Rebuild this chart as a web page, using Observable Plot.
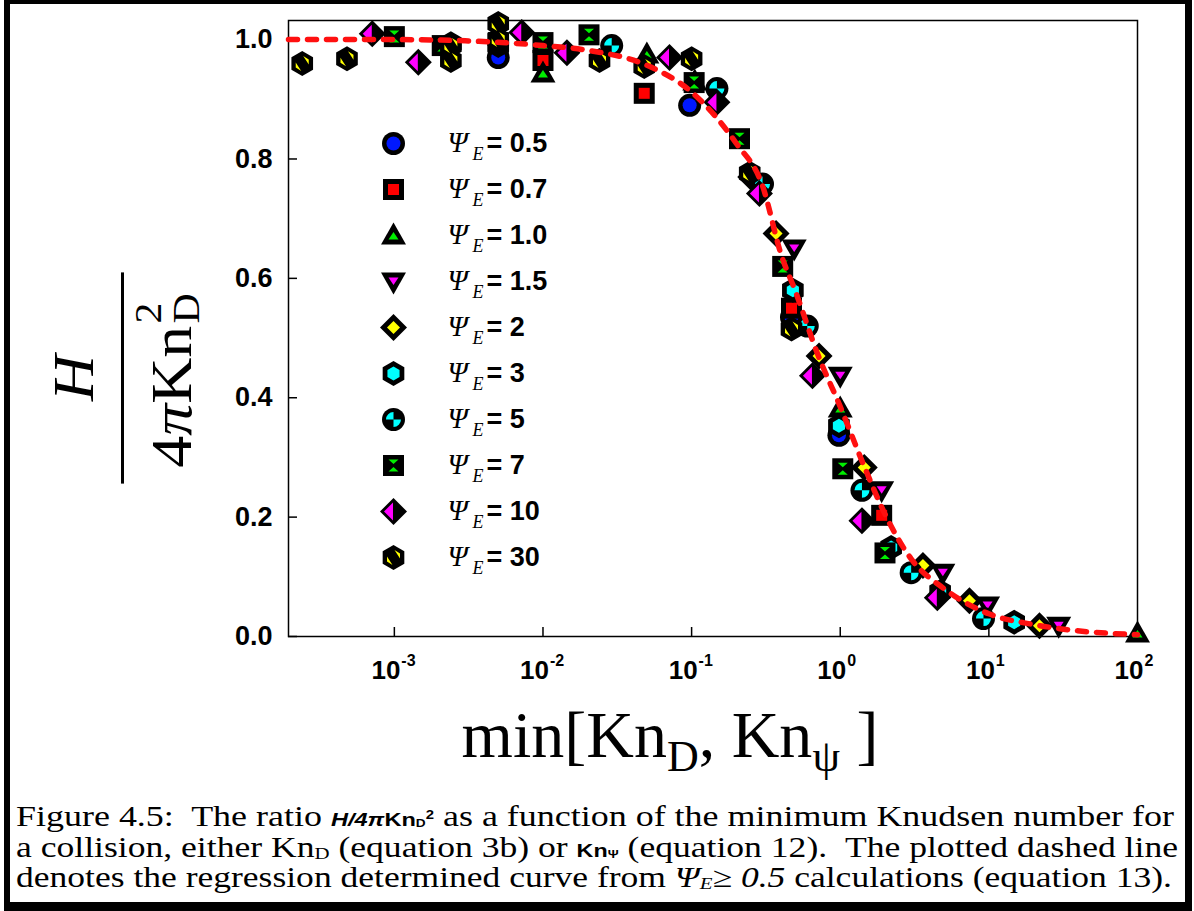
<!DOCTYPE html>
<html><head><meta charset="utf-8">
<script src="https://cdn.jsdelivr.net/npm/d3@7"></script>
<script src="https://cdn.jsdelivr.net/npm/@observablehq/plot@0.6"></script>
<style>
body{margin:0;background:#fff;}
#wrap{position:relative;width:1194px;height:911px;overflow:hidden;background:#fff;}
#border{position:absolute;left:4px;top:0;width:1188px;height:911px;box-sizing:border-box;border-style:solid;border-color:#000;border-width:4px 7px 9px 6px;pointer-events:none;}
#main{position:absolute;left:0;top:0;}
#legend{position:absolute;left:370px;top:118px;}
#ylab{position:absolute;left:23px;top:278px;width:200px;height:200px;transform:rotate(-90deg) scaleX(1.1);transform-origin:100px 100px;font-family:"Liberation Serif","Times New Roman",serif;color:#000;}
#ylab .bar{position:absolute;left:4px;top:98px;width:192px;height:3px;background:#000;}
#ylab .num{position:absolute;left:0;width:200px;top:22px;text-align:center;font-size:58px;line-height:58px;font-style:italic;}
#ylab .den{position:absolute;left:0;width:200px;top:120px;text-align:center;font-size:58px;line-height:58px;white-space:nowrap;}
#ylab .stack{display:inline-block;position:relative;width:34px;height:58px;vertical-align:top;}
#ylab .stack .sup{position:absolute;left:2px;top:-14px;font-size:38px;line-height:38px;}
#ylab .stack .sub{position:absolute;left:2px;top:24px;font-size:38px;line-height:38px;}
#xlab{position:absolute;left:0;width:1340px;top:700px;text-align:center;font-family:"Liberation Serif","Times New Roman",serif;font-size:66px;line-height:70px;color:#000;white-space:pre;}
#xlab sub{font-size:44px;vertical-align:-14px;line-height:0;}
#caption{position:absolute;left:16px;top:801px;font-family:"Liberation Serif","Times New Roman",serif;font-size:29px;color:#000;}
#caption .ln{display:block;white-space:pre;height:30.5px;line-height:30.5px;}
#caption .ln span.inner{display:inline-block;white-space:pre;transform-origin:0 50%;line-height:26px;}
#caption .sb{font-family:"Liberation Sans",Arial,sans-serif;font-weight:bold;font-size:19px;}
#caption .lo{font-size:17px;vertical-align:-2px;line-height:0;}
#caption .hi{font-size:12px;vertical-align:7px;line-height:0;}
#caption .sb .lo{font-size:11px;vertical-align:-1px;}
</style></head>
<body>
<div id="wrap">
  <div id="main"></div>
  <div id="legend"></div>
  <div id="ylab"><div class="num">H</div><div class="bar"></div><div class="den">4<i>π</i>Kn<span class="stack"><span class="sup">2</span><span class="sub">D</span></span></div></div>
  <div id="xlab">min[Kn<sub>D</sub>, Kn<sub>ψ</sub> ]</div>
  <div id="caption">
    <div class="ln"><span class="inner" data-w="1158">Figure 4.5:  The ratio <span class="sb"><i>H/4π</i>Kn<span class="lo">D</span><span class="hi">2</span></span> as a function of the minimum Knudsen number for</span></div>
    <div class="ln"><span class="inner" data-w="1162">a collision, either Kn<span class="lo">D</span> (equation 3b) or <span class="sb">Kn<span class="lo">Ψ</span></span> (equation 12).  The plotted dashed line</span></div>
    <div class="ln"><span class="inner" data-w="1156">denotes the regression determined curve from <i>Ψ<span class="lo">E</span>≥ 0.5</i> calculations (equation 13).</span></div>
  </div>
  <div id="border"></div>
</div>
<script>
// ---------- data ----------
const psiLabels = ["0.5","0.7","1.0","1.5","2","3","5","7","10","30"];

const kn_05 = [0.005, 0.097, 0.47, 0.98];
const h_05  = [0.970, 0.890, 0.535, 0.337];
const kn_07 = [0.01, 0.048, 0.47, 1.9];
const h_07  = [0.965, 0.910, 0.550, 0.203];
const kn_10 = [0.01, 0.05, 0.105, 1.0, 100];
const h_10  = [0.943, 0.975, 0.930, 0.382, 0.005];
const kn_15 = [0.49, 1.0, 1.9, 4.9, 9.8, 29.5];
const h_15  = [0.650, 0.437, 0.245, 0.107, 0.052, 0.018];
const kn_2  = [0.25, 0.37, 0.72, 1.45, 3.6, 7.4, 21.9];
const h_2   = [0.770, 0.675, 0.470, 0.283, 0.119, 0.060, 0.018];
const kn_3  = [0.0024, 0.005, 0.48, 0.98, 2.2, 4.7, 14.8];
const h_3   = [0.993, 0.990, 0.580, 0.353, 0.149, 0.075, 0.024];
const kn_5  = [0.029, 0.148, 0.30, 0.6, 1.4, 3.0, 9.2];
const h_5   = [0.990, 0.918, 0.758, 0.520, 0.245, 0.107, 0.030];
const kn_7  = [0.001, 0.0021, 0.005, 0.01, 0.0204, 0.104, 0.21, 0.41, 1.04, 2.0];
const h_7   = [1.005, 0.990, 0.995, 0.995, 1.008, 0.928, 0.834, 0.620, 0.281, 0.140];
const kn_10b = [7.1e-4, 1.45e-3, 7.2e-3, 0.0145, 0.071, 0.148, 0.286, 0.65, 1.4, 4.5];
const h_10b  = [1.010, 0.962, 1.012, 0.978, 0.970, 0.895, 0.742, 0.437, 0.194, 0.065];
const kn_30 = [2.4e-4, 4.8e-4, 0.0024, 0.0024, 0.005, 0.005, 0.024, 0.048, 0.1, 0.246, 0.47];
const h_30  = [0.960, 0.968, 0.990, 0.965, 1.027, 1.000, 0.965, 0.955, 0.968, 0.776, 0.515];

// regression curve
const curveKn = [1.94e-4, 1e-3, 3e-3, 0.01, 0.02, 0.05, 0.1, 0.2, 0.3, 0.4, 0.5, 0.7, 1.0, 1.45, 2.0, 3.0, 5.0, 10, 20, 30, 100];
const curveH  = [1.0, 1.0, 0.998, 0.99, 0.982, 0.957, 0.912, 0.826, 0.755, 0.64, 0.578, 0.475, 0.385, 0.285, 0.205, 0.13, 0.08, 0.038, 0.02, 0.013, 0.003];

const yTicks = [0, 0.2, 0.4, 0.6, 0.8, 1.0];
const xTicks = [1e-3, 1e-2, 1e-1, 1, 10, 100];
const xTickExp = ["-3", "-2", "-1", "0", "1", "2"];

// ---------- symbols ----------
function sym(f){ return {draw(ctx, size){ const r = Math.sqrt(size/Math.PI); f(ctx, r/10); }}; }
function poly(ctx, k, pts){ ctx.moveTo(pts[0][0]*k, pts[0][1]*k); for (let i=1;i<pts.length;i++) ctx.lineTo(pts[i][0]*k, pts[i][1]*k); ctx.closePath(); }
function hexPts(R){ const p=[]; for(let i=0;i<6;i++){ const a=(-90+60*i)*Math.PI/180; p.push([R*Math.cos(a), R*Math.sin(a)]); } return p; }

const outer = {
  circle: sym((c,k)=>{ c.moveTo(11.5*k,0); c.arc(0,0,11.5*k,0,2*Math.PI); }),
  square: sym((c,k)=>poly(c,k,[[-10.5,-10.5],[10.5,-10.5],[10.5,10.5],[-10.5,10.5]])),
  triUp:  sym((c,k)=>poly(c,k,[[0,-13],[12.5,9],[-12.5,9]])),
  triDn:  sym((c,k)=>poly(c,k,[[0,13],[12.5,-9],[-12.5,-9]])),
  diamond:sym((c,k)=>poly(c,k,[[0,-13.5],[13.5,0],[0,13.5],[-13.5,0]])),
  hex:    sym((c,k)=>poly(c,k,hexPts(12.5)))
};
const inner = {
  circle: sym((c,k)=>{ c.moveTo(7*k,0); c.arc(0,0,7*k,0,2*Math.PI); }),
  square: sym((c,k)=>poly(c,k,[[-5.5,-5.5],[5.5,-5.5],[5.5,5.5],[-5.5,5.5]])),
  triUp:  sym((c,k)=>poly(c,k,[[0,-3.5],[5,4],[-5,4]])),
  triDn:  sym((c,k)=>poly(c,k,[[0,3.5],[5,-4],[-5,-4]])),
  diamond:sym((c,k)=>poly(c,k,[[0,-6.5],[6.5,0],[0,6.5],[-6.5,0]])),
  hex:    sym((c,k)=>poly(c,k,hexPts(7))),
  quarters: sym((c,k)=>{ c.moveTo(0,0); c.arc(0,0,7.5*k,Math.PI,1.5*Math.PI); c.closePath(); c.moveTo(0,0); c.arc(0,0,7.5*k,0,0.5*Math.PI); c.closePath(); }),
  hourglass: sym((c,k)=>{ poly(c,k,[[-5,-6],[5,-6],[0,-1.5]]); poly(c,k,[[-5,6],[5,6],[0,1.5]]); }),
  leftHalf: sym((c,k)=>poly(c,k,[[-0.5,-9],[-9.5,0],[-0.5,9]])),
  hexSplit: sym((c,k)=>{ poly(c,k,[[1,-7.5],[6.5,-4],[6.5,1]]); poly(c,k,[[-1,7.5],[-6.5,4],[-6.5,-1]]); })
};

const styles = [
  {o: outer.circle,  i: inner.circle,    c: "#0018ff"},
  {o: outer.square,  i: inner.square,    c: "#ff0000"},
  {o: outer.triUp,   i: inner.triUp,     c: "#00ee00"},
  {o: outer.triDn,   i: inner.triDn,     c: "#ff00ff"},
  {o: outer.diamond, i: inner.diamond,   c: "#ffff00"},
  {o: outer.hex,     i: inner.hex,       c: "#00ffff"},
  {o: outer.circle,  i: inner.quarters,  c: "#00ffff"},
  {o: outer.square,  i: inner.hourglass, c: "#00ee00"},
  {o: outer.diamond, i: inner.leftHalf,  c: "#ff00ff"},
  {o: outer.hex,     i: inner.hexSplit,  c: "#ffff00"}
];

const seriesKn = [kn_05, kn_07, kn_10, kn_15, kn_2, kn_3, kn_5, kn_7, kn_10b, kn_30];
const seriesH  = [h_05, h_07, h_10, h_15, h_2, h_3, h_5, h_7, h_10b, h_30];
const series = psiLabels.map((lab, s) => seriesKn[s].map((kn, j) => ({psi: lab, kn, h: seriesH[s][j]})));
const curve = curveKn.map((kn, i) => ({kn, h: curveH[i]}));

// ---------- main plot ----------
const W = 1194, H = 790, mL = 288, mR = 57, mT = 20, mB = 154;
const fw = W - mL - mR, fh = H - mT - mB;
const sans = "'Liberation Sans', Arial, sans-serif";

const dotMarks = [];
series.forEach((pts, s) => {
  dotMarks.push(Plot.dot(pts, {x: "kn", y: "h", r: 10, symbol: styles[s].o, fill: "#000"}));
  dotMarks.push(Plot.dot(pts, {x: "kn", y: "h", r: 10, symbol: styles[s].i, fill: styles[s].c}));
});

const main = Plot.plot({
  width: W, height: H,
  marginLeft: mL, marginRight: mR, marginTop: mT, marginBottom: mB,
  style: {fontFamily: sans, background: "transparent", overflow: "visible"},
  x: {type: "log", domain: [1.94e-4, 100], axis: null},
  y: {domain: [0, 1.032], axis: null},
  marks: [
    Plot.frame({stroke: "#000", strokeWidth: 1.5}),
    Plot.tickY(yTicks, {y: d => d, stroke: "#000", strokeWidth: 1.5, insetRight: fw - 9}),
    Plot.tickX(xTicks, {x: d => d, stroke: "#000", strokeWidth: 1.5, insetTop: fh - 9}),
    Plot.text(yTicks, {y: d => d, text: d => d.toFixed(1), frameAnchor: "left", textAnchor: "end", dx: -16, fontSize: 27, fontWeight: "bold", fill: "#000"}),
    Plot.text(xTicks, {x: d => d, text: () => "10", frameAnchor: "bottom", textAnchor: "end", lineAnchor: "top", dx: 6, dy: 24, fontSize: 26, fontWeight: "bold", fill: "#000"}),
    Plot.text(xTicks, {x: d => d, text: (d, i) => xTickExp[i], frameAnchor: "bottom", textAnchor: "start", lineAnchor: "top", dx: 7, dy: 18, fontSize: 16, fontWeight: "bold", fill: "#000"}),
    ...dotMarks,
    Plot.line(curve, {x: "kn", y: "h", stroke: "#ff1010", strokeWidth: 5.5, strokeDasharray: "9,10", strokeLinecap: "round", curve: "monotone-x"})
  ]
});
document.getElementById("main").appendChild(main);

// ---------- legend ----------
const legMarks = [];
psiLabels.forEach((lab, s) => {
  legMarks.push(Plot.dot([lab], {y: d => d, frameAnchor: "left", r: 10, symbol: styles[s].o, fill: "#000"}));
  legMarks.push(Plot.dot([lab], {y: d => d, frameAnchor: "left", r: 10, symbol: styles[s].i, fill: styles[s].c}));
});
const legend = Plot.plot({
  width: 220, height: 463, marginTop: 23, marginBottom: 23, marginLeft: 23, marginRight: 0,
  style: {background: "transparent", overflow: "visible"},
  y: {type: "point", domain: psiLabels, padding: 0, axis: null},
  marks: [
    ...legMarks,
    Plot.text(psiLabels, {y: d => d, text: () => "Ψ", frameAnchor: "left", textAnchor: "start", dx: 54, dy: -1, fontSize: 29, fontStyle: "italic", fontFamily: "'Liberation Serif', serif", fill: "#000"}),
    Plot.text(psiLabels, {y: d => d, text: () => "E", frameAnchor: "left", textAnchor: "start", dx: 79, dy: 11, fontSize: 18, fontStyle: "italic", fontFamily: "'Liberation Serif', serif", fill: "#000"}),
    Plot.text(psiLabels, {y: d => d, text: d => "= " + d, frameAnchor: "left", textAnchor: "start", dx: 93, dy: 0, fontSize: 27, fontWeight: "bold", fontFamily: sans, fill: "#000"})
  ]
});
document.getElementById("legend").appendChild(legend);

// fit caption lines to their widths
document.querySelectorAll("#caption .inner").forEach(el => {
  const w = el.getBoundingClientRect().width;
  const target = +el.dataset.w;
  el.style.transform = `scaleX(${target / w})`;
});
</script>
</body></html>
